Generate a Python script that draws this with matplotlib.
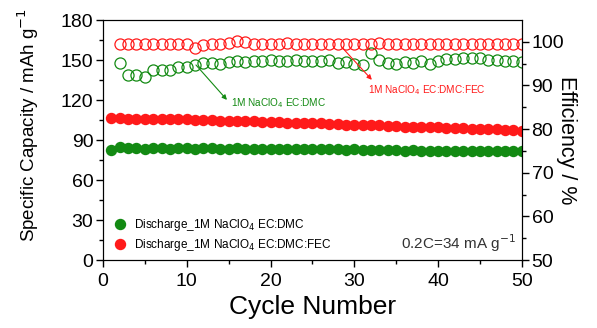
import matplotlib.pyplot as plt
import numpy as np

plt.rcParams["font.family"] = ["Liberation Sans", "DejaVu Sans"]

# discharge capacity, cycles 1-50 (mAh/g)
cycles = np.arange(1, 51)
cap_dmc = [82.5, 85.0, 84.0, 84.0, 83.5, 84.0, 84.0, 83.5, 84.0, 84.0,
           83.5, 84.0, 84.0, 83.5, 83.5, 84.0, 83.5, 83.5, 83.5, 83.5,
           83.0, 83.5, 83.0, 83.0, 83.0, 83.0, 83.0, 83.0, 82.5, 83.0,
           82.5, 82.5, 82.5, 82.5, 82.5, 82.0, 82.5, 82.0, 82.0, 82.0,
           82.0, 82.0, 82.0, 82.0, 81.5, 81.5, 81.5, 81.5, 81.5, 81.5]
cap_fec = [106.5, 106.5, 106.0, 106.0, 106.0, 106.0, 105.5, 105.5, 105.5, 105.5,
           105.0, 105.0, 105.0, 104.5, 104.5, 104.0, 104.0, 104.0, 103.5, 103.5,
           103.5, 103.0, 103.0, 103.0, 102.5, 102.5, 102.0, 102.0, 101.5, 101.5,
           101.0, 101.0, 101.0, 100.5, 100.5, 100.0, 100.0, 100.0, 99.5, 99.5,
           99.0, 99.0, 99.0, 98.5, 98.5, 98.0, 98.0, 97.5, 97.5, 97.0]

# coulombic efficiency, cycles 2-50 (%)
eff_cycles = np.arange(2, 51)
eff_dmc = [95.2, 92.4, 92.4, 92.0, 93.6, 93.6, 93.6, 94.3, 94.3, 94.7,
           95.2, 95.2, 95.0, 95.4, 95.6, 95.4, 95.6, 95.6, 95.8, 95.6,
           95.6, 95.8, 95.6, 95.6, 95.6, 95.8, 95.2, 95.4, 95.0, 94.7,
           97.5, 95.8, 95.2, 95.0, 95.4, 95.2, 95.6, 95.0, 95.6, 96.0,
           96.0, 96.3, 96.3, 96.3, 95.8, 95.8, 95.6, 95.6, 95.4]
eff_fec = [99.5, 99.4, 99.6, 99.5, 99.6, 99.5, 99.4, 99.6, 99.5, 98.6,
           99.3, 99.5, 99.6, 99.8, 100.2, 99.9, 99.6, 99.5, 99.6, 99.5,
           99.7, 99.5, 99.6, 99.5, 99.4, 99.6, 99.5, 99.6, 99.5, 99.6,
           99.5, 99.7, 99.5, 99.6, 99.5, 99.4, 99.6, 99.5, 99.6, 99.5,
           99.6, 99.5, 99.4, 99.6, 99.5, 99.6, 99.5, 99.4, 99.5]

green = "#138a13"
red = "#ff1a1a"

fig = plt.figure(figsize=(5.97, 3.28), dpi=100)
ax = fig.add_axes([0.1725, 0.207, 0.7015, 0.732])
ax2 = ax.twinx()

ax.plot(cycles, cap_dmc, "o", color=green, mec=green, ms=7.2,
        label=r"Discharge_1M NaClO$_4$ EC:DMC")
ax.plot(cycles, cap_fec, "o", color=red, mec=red, ms=7.2,
        label=r"Discharge_1M NaClO$_4$ EC:DMC:FEC")
ax2.plot(eff_cycles, eff_dmc, "o", mfc="none", mec=green, mew=0.9, ms=8)
ax2.plot(eff_cycles, eff_fec, "o", mfc="none", mec=red, mew=0.9, ms=8)

ax.set_xlim(0, 50)
ax.set_ylim(0, 180)
ax2.set_ylim(50, 105)
ax.set_xticks(np.arange(0, 51, 10))
ax.set_xticks(np.arange(5, 50, 10), minor=True)
ax.set_yticks(np.arange(0, 181, 30))
ax.set_yticks(np.arange(15, 180, 30), minor=True)
ax2.set_yticks(np.arange(50, 101, 10))
ax2.set_yticks(np.arange(55, 101, 10), minor=True)

for a in (ax, ax2):
    a.tick_params(which="both", direction="out", labelsize=14, pad=2)
    a.tick_params(which="major", length=5, width=1)
    a.tick_params(which="minor", length=3, width=1)
ax.tick_params(axis="x", pad=4)

ax.set_xlabel("Cycle Number", fontsize=19, labelpad=4)
ax.set_ylabel(r"Specific Capacity / mAh g$^{-1}$", fontsize=13.5)
ax.yaxis.set_label_coords(-0.147, 0.5625)
ax2.set_ylabel("Efficiency / %", fontsize=15.5, rotation=270, labelpad=9)

ax2.annotate(r"1M NaClO$_4$ EC:DMC", xy=(15.3, 86.0), fontsize=7.2,
             color=green, va="center")
ax2.annotate("", xy=(14.8, 86.7), xytext=(11.1, 94.7),
             arrowprops=dict(arrowstyle="-|>", color=green, lw=0.8,
                             shrinkA=0, shrinkB=0, mutation_scale=7))
ax2.annotate(r"1M NaClO$_4$ EC:DMC:FEC", xy=(31.6, 89.0), fontsize=7.2,
             color=red, va="center")
ax2.annotate("", xy=(32.1, 91.3), xytext=(28.6, 98.6),
             arrowprops=dict(arrowstyle="-|>", color=red, lw=0.8,
                             shrinkA=0, shrinkB=0, mutation_scale=7))

ax2.text(49.3, 53.9, r"0.2C=34 mA g$^{-1}$", fontsize=11, color="#333333",
         ha="right", va="center")

ax.legend(loc="lower left", bbox_to_anchor=(0.024, 0.03), frameon=False,
          fontsize=8.5, handletextpad=0.6, labelspacing=0.35, borderaxespad=0,
          borderpad=0, handlelength=1.2)

fig.savefig("out.png", dpi=100)
